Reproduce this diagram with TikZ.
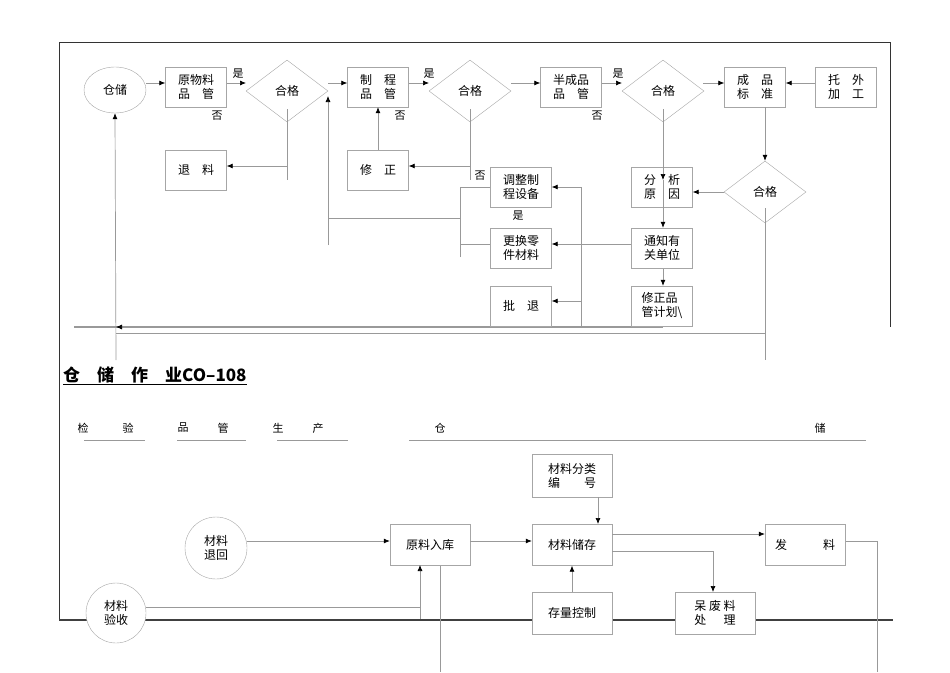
\documentclass[tikz,border=0pt]{standalone}
\usepackage{fontspec}
\setmainfont{Noto Sans CJK SC}
\usetikzlibrary{shapes.geometric,arrows.meta}
\begin{document}
\begin{tikzpicture}[x=1pt,y=-1pt,
  bx/.style={draw=gray!70,fill=white,minimum width=61pt,minimum height=40pt,inner sep=1pt,font=\fontsize{12}{14}\selectfont,align=left},
  dm/.style={draw=gray!70,fill=white,diamond,aspect=1.33,minimum width=82pt,minimum height=62pt,inner sep=0pt,font=\fontsize{12}{14}\selectfont},
  el/.style={draw=gray!70,fill=white,ellipse,minimum width=62pt,minimum height=46pt,font=\fontsize{12}{14}\selectfont,inner sep=0pt,align=center},
  ln/.style={draw=gray!80,line width=0.7pt},
  ar/.style={ln,-{Latex[length=6pt,width=5pt,black]}},
  lb/.style={font=\fontsize{11}{13}\selectfont,inner sep=0pt}]
\useasboundingbox (0,0) rectangle (950,672);
% frame
\draw[black!80,line width=0.8pt] (59,620) -- (59,42) -- (890,42) -- (890,327);
\draw[gray!80,line width=1.2pt] (74,327) -- (663,327);
% top nodes
\node[el] (cc) at (115,90) {仓储};
\node[bx] (ywl) at (196,87) {原物料\\品\quad 管};
\node[dm] (d1) at (287,91) {合格};
\node[bx] (zc) at (378,87) {制\quad 程\\品\quad 管};
\node[dm] (d2) at (470,91) {合格};
\node[bx] (bcp) at (571,87) {半成品\\品\quad 管};
\node[dm] (d3) at (663,91) {合格};
\node[bx] (cp) at (755,87) {成\quad 品\\标\quad 准};
\node[bx] (tw) at (846,87) {托\quad 外\\加\quad 工};
\node[bx] (tl) at (196,170) {退\quad 料};
\node[bx] (xz) at (378,170) {修\quad 正};
\node[bx] (tz) at (521,187) {调整制\\程设备};
\node[bx] (gh) at (521,248) {更换零\\件材料};
\node[bx] (pt) at (521,306) {批\quad 退};
\node[bx] (fx) at (662,187) {分\quad 析\\原\quad 因};
\node[bx] (tzh) at (662,248) {通知有\\关单位};
\node[bx] (xzp) at (662,306) {修正品\\管计划\textbackslash};
\node[dm] (d4) at (765,192) {合格};
% top connectors
\draw[ar] (cc.east |- 0,83) -- (ywl.west |- 0,83);
\draw[ar] (ywl.east |- 0,83) -- (246,83);
\draw[ln] (287,109) -- (287,180);
\draw[ar] (287,166) -- (tl.east |- 0,166);
\draw[ar] (328,83) -- (zc.west |- 0,83);
\draw[ar] (328,245) -- (328,96);
\draw[ar] (zc.east |- 0,83) -- (429,83);
\draw[ln] (470,109) -- (470,180);
\draw[ar] (470,166) -- (xz.east |- 0,166);
\draw[ar] (xz.north) -- (zc.south);
\draw[ln] (460,257) -- (460,187) -- (tz.west |- 0,187);
\draw[ln] (328,218) -- (460,218);
\draw[ln] (460,244) -- (gh.west |- 0,244);
\draw[ar] (511,83) -- (bcp.west |- 0,83);
\draw[ar] (bcp.east |- 0,83) -- (622,83);
\draw[ar] (703,83) -- (cp.west |- 0,83);
\draw[ar] (tw.west |- 0,83) -- (cp.east |- 0,83);
\draw[ar] (765,107) -- (d4.north);
\draw[ln] (765,208) -- (765,360);
\draw[ar] (d4.west) -- (fx.east |- d4.west);
\draw[ar] (663,109) -- (663,180);
\draw[ar] (663,180) -- (tzh.north -| 663,0);
\draw[ar] (663,269) -- (xzp.north -| 663,0);
\draw[ar] (tzh.west |- 0,244) -- (gh.east |- 0,244);
\draw[ln] (581,327) -- (581,187);
\draw[ar] (581,187) -- (tz.east |- 0,187);
\draw[ar] (581,301) -- (pt.east |- 0,301);
\draw[ar] (300,327) -- (116,327);
\draw[ar] (116,360) -- (cc.south);
\draw[ln] (116,333) -- (765,333);
\node[lb] at (238,74) {是};
\node[lb] at (429,74) {是};
\node[lb] at (618,74) {是};
\node[lb] at (217,116) {否};
\node[lb] at (400,116) {否};
\node[lb] at (597,116) {否};
\node[lb] at (480,176) {否};
\node[lb] at (518,216) {是};
% lower part
\node[anchor=west,inner sep=0pt,font=\fontsize{17}{19}\selectfont\bfseries] (title) at (63,376) {\underline{仓\quad 储\quad 作\quad 业CO--108}};
\node[lb] (h1) at (83,428) {检};\node[lb] at (128,428) {验};
\node[lb] (h2) at (183,428) {品};\node[lb] at (223,428) {管};
\node[lb] (h3) at (278,428) {生};\node[lb] at (318,428) {产};
\node[lb] (h4) at (440,428) {仓};\node[lb] at (820,428) {储};
\draw[ln] (84,440) -- (145,440);
\draw[ln] (177,440) -- (246,440);
\draw[ln] (277,440) -- (348,440);
\draw[ln] (409,440) -- (866,440);
\draw[gray!50!black,line width=1.2pt] (59,620) -- (893,620);
\draw[ln] (440,565) -- (440,672);
\draw[ln] (845,541) -- (877,541) -- (877,672);
\node[bx,minimum width=80pt,minimum height=43pt] (fl) at (572,476) {材料分类\\编\qquad 号};
\node[el,minimum width=62pt,minimum height=62pt] (th) at (216,548) {材料\\退回};
\node[bx,minimum width=80pt,minimum height=41pt] (yl) at (430,545) {原料入库};
\node[bx,minimum width=80pt,minimum height=41pt] (cc2) at (572,545) {材料储存};
\node[bx,minimum width=80pt,minimum height=41pt] (fa) at (805,545) {发\qquad\quad 料};
\node[el,minimum width=60pt,minimum height=60pt] (ys) at (116,613) {材料\\验收};
\node[bx,minimum width=80pt,minimum height=42pt] (cl) at (572,613) {存量控制};
\node[bx,minimum width=80pt,minimum height=42pt] (df) at (715,613) {呆 废 料\\处\quad\ \ 理};
\draw[ar] (th.east |- 0,541) -- (yl.west |- 0,541);
\draw[ar] (yl.east |- 0,541) -- (cc2.west |- 0,541);
\draw[ar] (598,497) -- (598,524);
\draw[ar] (cc2.east |- 0,534) -- (fa.west |- 0,534);
\draw[ar] (cc2.east |- 0,551) -- (713,551) -- (713,592);
\draw[ar] (cl.north) -- (cc2.south);
\draw[ln] (ys.east |- 0,607) -- (420,607);
\draw[ar] (420,619) -- (420,565);
\end{tikzpicture}
\end{document}
